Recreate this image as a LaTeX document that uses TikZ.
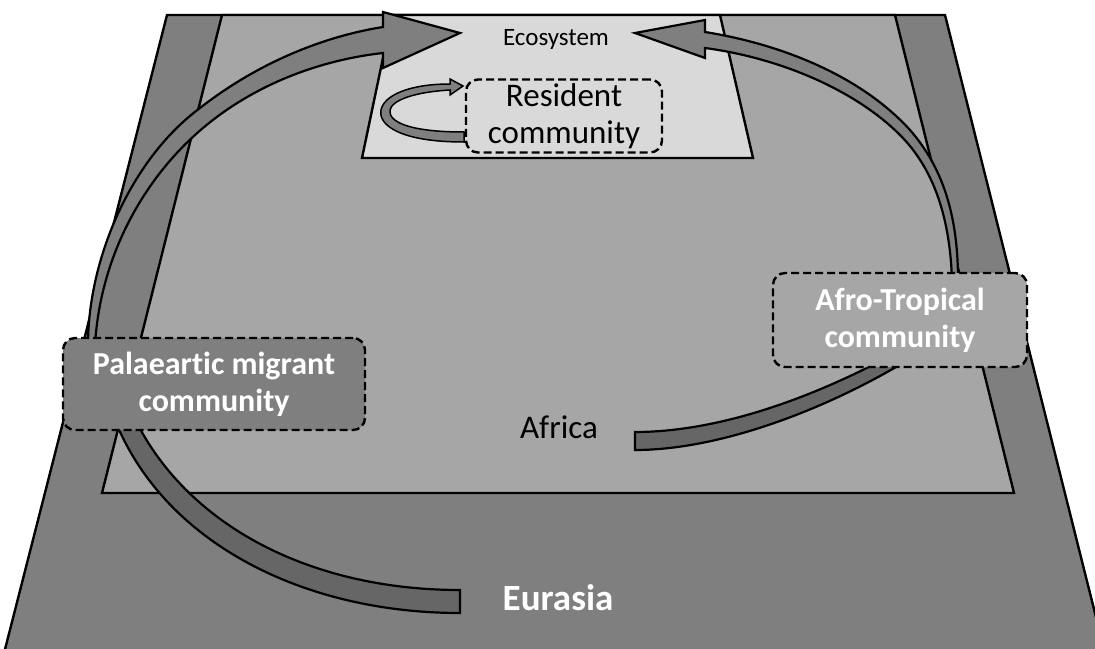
\documentclass[tikz,border=0pt]{standalone}
\usepackage{fontspec}
\setmainfont{Carlito}[Ligatures=NoCommon]
\usepackage{xcolor}
\usepackage{tikz}
\definecolor{eurgray}{HTML}{7F7F7F}
\definecolor{afrgray}{HTML}{A6A6A6}
\definecolor{ecogray}{HTML}{D9D9D9}
\definecolor{ribgray}{HTML}{666666}

\begin{document}
\begin{tikzpicture}[x=1pt, y=-1pt,
    land/.style={draw=black, line width=2.4pt},
    rib/.style={draw=black, line width=2.2pt, fill=eurgray},
    cbox/.style={draw=black, line width=2.4pt, dash pattern=on 8pt off 4pt,
                 rounded corners=12pt, align=center, inner sep=0pt},
    rtx/.style={font=\fontsize{33}{37}\selectfont},
    btx/.style={font=\bfseries\fontsize{32}{37}\selectfont, text=white}]
  \useasboundingbox (0,0) rectangle (1095,648);
  \clip (0,0) rectangle (1095,648);
  \draw[land, fill=eurgray] (167,15) -- (945,15) -- (1108,665) -- (1,665) -- cycle;
  \draw[land, fill=afrgray] (222,15) -- (895,15) -- (1014,493) -- (102,493) -- cycle;
  \draw[land, fill=ecogray] (392,15) -- (720,15) -- (753,158) -- (362,158) -- cycle;
  \draw[rib, fill=ribgray] (113,415) .. controls (160,540) and (300,613) .. (460,613)
    -- (460,590) .. controls (310,590) and (185,525) .. (133,415) -- cycle;
  \draw[rib, fill=ribgray] (635,432) .. controls (715,432) and (806,401) .. (892,355)
    -- (916,355) .. controls (836,405) and (725,450) .. (635,450) -- cycle;
  \draw[rib] (88,345) .. controls (88,260) and (130,160) .. (200,108)
    .. controls (255,65) and (320,37) .. (383,27) -- (383,12) -- (460,33) -- (383,68) -- (383,53)
    .. controls (320,60) and (250,85) .. (195,135)
    .. controls (140,185) and (100,260) .. (95,345) -- cycle;
  \draw[rib] (958,280) .. controls (958,220) and (945,170) .. (910,130)
    .. controls (860,75) and (780,44) .. (705,32) -- (705,20) -- (635,33) -- (705,58) -- (705,48)
    .. controls (780,58) and (855,90) .. (900,135)
    .. controls (935,170) and (950,220) .. (952,280) -- cycle;
  \draw[rib, line width=1.5pt] (464,142) .. controls (400,142) and (378,125) .. (381,110)
    .. controls (384,95) and (410,84) .. (450,84) -- (450,79) -- (463,86) -- (450,95) -- (450,90)
    .. controls (415,92) and (392,100) .. (390,110)
    .. controls (388,122) and (410,132) .. (464,132) -- cycle;
  \node[cbox, rtx, fill=ecogray, minimum width=196pt, minimum height=73pt] (res) at (564,116)
    {Resident\\community};
  \node[cbox, btx, fill=eurgray, minimum width=302pt, minimum height=92pt] (pal) at (214,384)
    {Palaeartic migrant\\community};
  \node[cbox, btx, fill=afrgray, minimum width=254pt, minimum height=94pt] (afro) at (900,320)
    {Afro-Tropical\\community};
  \node[anchor=base, font=\fontsize{25}{30}\selectfont] (eco) at (556,45) {Ecosystem};
  \node[anchor=base, rtx] (afr) at (559,438) {Africa};
  \node[anchor=base, btx, font=\bfseries\fontsize{37}{44}\selectfont] (eur) at (558,610) {Eurasia};
\end{tikzpicture}
\end{document}
